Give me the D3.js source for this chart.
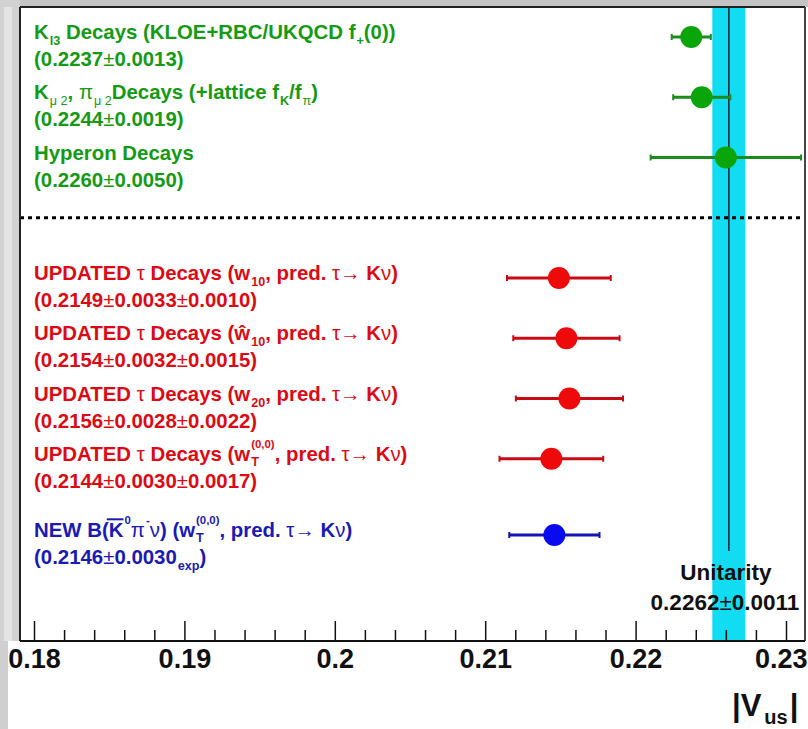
<!DOCTYPE html>
<html>
<head>
<meta charset="utf-8">
<script src="https://cdn.jsdelivr.net/npm/d3@7"></script>
<style>
  html, body { margin: 0; padding: 0; background: #ffffff; }
  svg { display: block; font-family: "Liberation Sans", Arial, Helvetica, sans-serif; }
  svg text { white-space: pre; }
</style>
</head>
<body>
<svg id="chart" width="808" height="729"></svg>
<script>
// ---------------- DATA ----------------
const categories = ["Kl3", "Kmu2", "Hyperon", "tau_w10", "tau_w10hat", "tau_w20", "tau_wT", "B_K0pinu"];
const values     = [0.2237, 0.2244, 0.2260, 0.2149, 0.2154, 0.2156, 0.2144, 0.2146];
const statErr    = [0.0013, 0.0019, 0.0050, 0.0033, 0.0032, 0.0028, 0.0030, 0.0030];
const systErr    = [0,      0,      0,      0.0010, 0.0015, 0.0022, 0.0017, 0];
const groups     = ["green", "green", "green", "red", "red", "red", "red", "blue"];
const unitarityValue = 0.2262;
const unitarityErr   = 0.0011;
const xTicks      = [0.18, 0.19, 0.20, 0.21, 0.22, 0.23];
const xTickLabels = ["0.18", "0.19", "0.2", "0.21", "0.22", "0.23"];

// label lines (rich text segments)
const labelLine1 = [
  ["K", {sub: "l3"}, " Decays (KLOE+RBC/UKQCD f", {sub: "+"}, "(0))"],
  ["K", {sub: "\u03bc 2", subW: "normal"}, ", ", {g: "\u03c0"}, {sub: "\u03bc 2", subW: "normal"}, "Decays (+lattice f", {sub: "K"}, "/f", {sub: "\u03c0", subW: "normal"}, ")"],
  ["Hyperon Decays"],
  ["UPDATED ", {g: "\u03c4"}, " Decays (w", {sub: "10"}, ", pred. ", {g: "\u03c4\u2192 "}, "K", {g: "\u03bd"}, ")"],
  ["UPDATED ", {g: "\u03c4"}, " Decays (", "\u0175", {sub: "10"}, ", pred. ", {g: "\u03c4\u2192 "}, "K", {g: "\u03bd"}, ")"],
  ["UPDATED ", {g: "\u03c4"}, " Decays (w", {sub: "20"}, ", pred. ", {g: "\u03c4\u2192 "}, "K", {g: "\u03bd"}, ")"],
  ["UPDATED ", {g: "\u03c4"}, " Decays (w", {sub: "T", sup: "(0,0)"}, ", pred. ", {g: "\u03c4\u2192 "}, "K", {g: "\u03bd"}, ")"],
  ["NEW B(", {over: "K"}, {sup: "0"}, {g: "\u03c0"}, {sup: "-"}, {g: "\u03bd"}, ") (w", {sub: "T", sup: "(0,0)"}, ", pred. ", {g: "\u03c4\u2192 "}, "K", {g: "\u03bd"}, ")"]
];
const labelLine2 = [
  ["(0.2237", {g: "\u00b1"}, "0.0013)"],
  ["(0.2244", {g: "\u00b1"}, "0.0019)"],
  ["(0.2260", {g: "\u00b1"}, "0.0050)"],
  ["(0.2149", {g: "\u00b1"}, "0.0033", {g: "\u00b1"}, "0.0010)"],
  ["(0.2154", {g: "\u00b1"}, "0.0032", {g: "\u00b1"}, "0.0015)"],
  ["(0.2156", {g: "\u00b1"}, "0.0028", {g: "\u00b1"}, "0.0022)"],
  ["(0.2144", {g: "\u00b1"}, "0.0030", {g: "\u00b1"}, "0.0017)"],
  ["(0.2146", {g: "\u00b1"}, "0.0030", {sub: "exp"}, ")"]
];

// ---------------- STYLE ----------------
const markerColor = {green: "#0aa50a", red: "#ee0a0a", blue: "#0a0af0"};
const barColor    = {green: "#1c8a1c", red: "#c80a14", blue: "#1414b4"};
const textColor   = {green: "#159a15", red: "#dc0a14", blue: "#1a1ab4"};

const svg = d3.select("#chart");
const W = 808, H = 729;
const frame = {left: 20, right: 805, top: 7, bottom: 641};

// background (grey screenshot margins)
svg.append("rect").attr("x", 0).attr("y", 0).attr("width", W).attr("height", H).attr("fill", "#ffffff");
svg.append("rect").attr("x", 0).attr("y", 0).attr("width", W).attr("height", frame.top).attr("fill", "#c4c4c4");
svg.append("rect").attr("x", 0).attr("y", 0).attr("width", frame.left).attr("height", frame.bottom).attr("fill", "#d2d2d2");
svg.append("rect").attr("x", 4).attr("y", frame.top).attr("width", 8).attr("height", frame.bottom - frame.top).attr("fill", "#e4e4e4");
svg.append("rect").attr("x", 0).attr("y", frame.bottom).attr("width", 8).attr("height", H - frame.bottom).attr("fill", "#cfcfcf");
svg.append("rect").attr("x", frame.left).attr("y", frame.top).attr("width", frame.right - frame.left).attr("height", frame.bottom - frame.top).attr("fill", "#ffffff");

// ---------------- SCALES ----------------
const x = d3.scaleLinear().domain([0.18, 0.23]).range([34, 786]);
const rowKeys = ["Kl3", "Kmu2", "Hyperon", "sep", "tau_w10", "tau_w10hat", "tau_w20", "tau_wT", "B_K0pinu"];
const yPoint = d3.scalePoint().domain(rowKeys).range([37, 519]);
const groupOffset = {green: 0, red: 0, blue: 16};
const yOf = i => yPoint(categories[i]) + groupOffset[groups[i]];

// ---------------- UNITARITY BAND ----------------
svg.append("rect")
  .attr("x", x(unitarityValue - unitarityErr))
  .attr("y", frame.top)
  .attr("width", x(unitarityValue + unitarityErr) - x(unitarityValue - unitarityErr))
  .attr("height", frame.bottom - frame.top)
  .attr("fill", "#12dcf2");
svg.append("line")
  .attr("x1", x(unitarityValue)).attr("x2", x(unitarityValue))
  .attr("y1", frame.top).attr("y2", 551)
  .attr("stroke", "#1a2a40").attr("stroke-width", 1.6);

// separator
svg.append("line")
  .attr("x1", frame.left).attr("x2", frame.right)
  .attr("y1", yPoint("sep")).attr("y2", yPoint("sep"))
  .attr("stroke", "#000").attr("stroke-width", 3).attr("stroke-dasharray", "4,4");

// ---------------- POINTS ----------------
const totErr = values.map((v, i) => Math.sqrt(statErr[i] ** 2 + systErr[i] ** 2));
const pts = svg.append("g");
values.forEach((v, i) => {
  const yy = yOf(i), c = groups[i];
  const x1 = x(v - totErr[i]), x2 = x(v + totErr[i]);
  pts.append("line").attr("x1", x1).attr("x2", x2).attr("y1", yy).attr("y2", yy)
    .attr("stroke", barColor[c]).attr("stroke-width", 3);
  [x1, x2].forEach(xx => pts.append("line").attr("x1", xx).attr("x2", xx)
    .attr("y1", yy - 3).attr("y2", yy + 3).attr("stroke", barColor[c]).attr("stroke-width", 2));
  pts.append("circle").attr("cx", x(v)).attr("cy", yy).attr("r", 11).attr("fill", markerColor[c]);
});

// ---------------- RICH TEXT ----------------
function put(g, t, xx, yy, size, weight, color) {
  const el = g.append("text").attr("x", xx).attr("y", yy).attr("xml:space", "preserve")
    .attr("font-size", size).attr("font-weight", weight).attr("fill", color).text(t);
  return el.node().getComputedTextLength();
}
function drawRich(g, segs, x0, y, size, color) {
  let cx = x0;
  segs.forEach(s => {
    if (typeof s === "string") {
      cx += put(g, s, cx, y, size, "bold", color);
    } else if (s.g) {
      cx += put(g, s.g, cx, y, size, "normal", color);
    } else if (s.over) {
      const w = put(g, s.over, cx, y, size, "bold", color);
      g.append("line").attr("x1", cx - 2).attr("x2", cx + w).attr("y1", y - size * 0.72 - 3).attr("y2", y - size * 0.72 - 3)
        .attr("stroke", color).attr("stroke-width", 2);
      cx += w;
    } else {
      let w1 = 0, w2 = 0;
      const both = s.sub && s.sup;
      if (s.sub) w1 = put(g, s.sub, cx + 1, y + (both ? 5 : 6), size * 0.62, s.subW || "bold", color) + 1;
      if (s.sup) w2 = put(g, s.sup, cx + 1, y - 13, size * 0.56, "bold", color) + 1;
      cx += Math.max(w1, w2);
    }
  });
  return cx;
}

const labels = svg.append("g");
const fs = 20.4;
categories.forEach((c, i) => {
  const yy = yOf(i);
  drawRich(labels, labelLine1[i], 34, yy + 2, fs, textColor[groups[i]]);
  drawRich(labels, labelLine2[i], 34, yy + 29, fs, textColor[groups[i]]);
});

// unitarity text
svg.append("text").attr("x", 726).attr("y", 580).attr("text-anchor", "middle")
  .attr("font-size", 22.5).attr("font-weight", "bold").attr("fill", "#111").text("Unitarity");
const ut = svg.append("text").attr("x", 725).attr("y", 610).attr("text-anchor", "middle")
  .attr("font-size", 22.5).attr("font-weight", "bold").attr("fill", "#111");
ut.append("tspan").text(unitarityValue.toFixed(4));
ut.append("tspan").attr("font-weight", "normal").text("\u00b1");
ut.append("tspan").text(unitarityErr.toFixed(4));

// ---------------- FRAME ----------------
svg.append("line").attr("x1", frame.left).attr("x2", frame.left).attr("y1", frame.top).attr("y2", frame.bottom)
  .attr("stroke", "#222").attr("stroke-width", 2);
svg.append("line").attr("x1", frame.left).attr("x2", frame.right).attr("y1", frame.top).attr("y2", frame.top)
  .attr("stroke", "#222").attr("stroke-width", 2);
svg.append("line").attr("x1", frame.right).attr("x2", frame.right).attr("y1", frame.top).attr("y2", frame.bottom)
  .attr("stroke", "#444").attr("stroke-width", 2);

// ---------------- AXIS ----------------
const minorTicks = d3.range(0, 27).map(k => 0.18 + k * 0.002).filter(v => Math.abs(Math.round(v * 100) - v * 100) > 1e-6);
const axisG = svg.append("g").attr("transform", `translate(0,${frame.bottom})`);
axisG.append("line").attr("x1", frame.left).attr("x2", frame.right).attr("y1", 0).attr("y2", 0)
  .attr("stroke", "#111").attr("stroke-width", 2);
const majorAxis = d3.axisBottom(x).tickValues(xTicks).tickSize(-20).tickFormat((d, i) => xTickLabels[i]);
const maj = axisG.append("g").call(majorAxis);
maj.select(".domain").remove();
maj.selectAll(".tick line").attr("stroke", "#111").attr("stroke-width", 1.5);
maj.selectAll(".tick text").attr("font-size", 27).attr("font-weight", "bold").attr("fill", "#111")
  .attr("font-family", "Liberation Sans, Arial, sans-serif").attr("dy", null).attr("y", 27)
  .attr("text-anchor", (d, i) => i === xTicks.length - 1 ? "end" : "middle")
  .attr("x", (d, i) => i === xTicks.length - 1 ? W - 1 - x(d) : 0);
const minorAxis = d3.axisBottom(x).tickValues(minorTicks).tickSize(-11).tickFormat("");
const mn = axisG.append("g").call(minorAxis);
mn.select(".domain").remove();
mn.selectAll(".tick line").attr("stroke", "#111").attr("stroke-width", 1.5);

// axis title |V_us|
const tg = svg.append("g");
let tx = 732;
tx += put(tg, "|V", tx, 716, 31, "bold", "#111");
tx += put(tg, "us", tx + 3, 724, 20, "bold", "#111") + 5;
put(tg, "|", tx, 716, 31, "bold", "#111");
</script>
</body>
</html>
